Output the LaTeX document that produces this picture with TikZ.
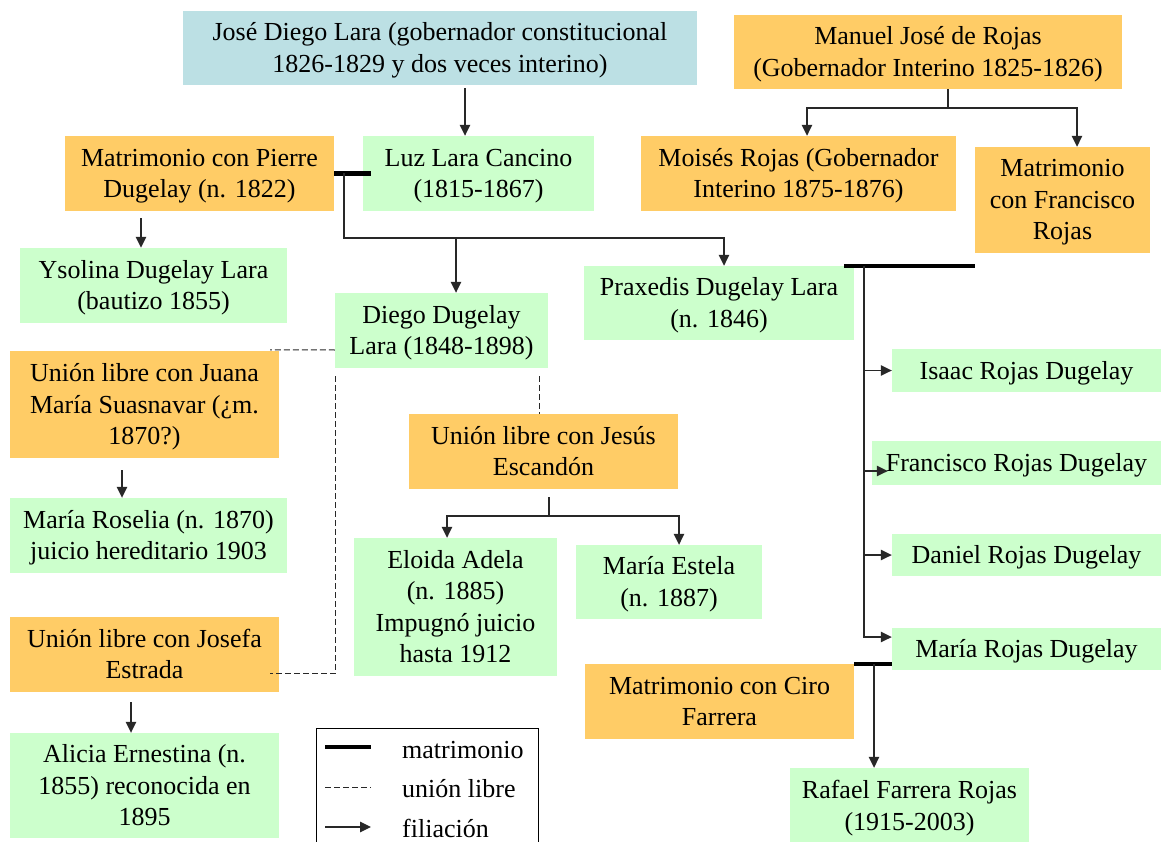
\documentclass[tikz,border=0pt]{standalone}
\usepackage{fontspec}
\setmainfont{Liberation Serif}
\newfontfamily\boxserif{Liberation Serif}
\usetikzlibrary{arrows.meta,calc}
\definecolor{boxgreen}{RGB}{204,255,204}
\definecolor{boxorange}{RGB}{255,204,102}
\definecolor{boxblue}{RGB}{188,224,228}
\definecolor{linegray}{RGB}{40,40,40}
\newcommand\toppad{\rule{0pt}{26pt}}
\newcommand\botpad{\rule[-9pt]{0pt}{9pt}}
\begin{document}
\begin{tikzpicture}[x=1pt,y=-1pt,
  box/.style={draw=none, inner sep=0pt, align=center, font=\boxserif\fontsize{26pt}{31.5pt}\selectfont, anchor=center},
  sz/.style 2 args={minimum width=#1, minimum height=#2},
  pbox/.style={box, fill=boxgreen},
  obox/.style={box, fill=boxorange},
  bbox/.style={box, fill=boxblue},
  filarrow/.style={-{Triangle[length=11pt,width=10.5pt]}, line width=1.4pt, draw=linegray},
  plain/.style={line width=1.4pt, draw=linegray},
  marriage/.style={line width=4.3pt, draw=black},
  freeunion/.style={line width=1pt, draw=linegray, dash pattern=on 6pt off 3pt},
  legtext/.style={anchor=west, inner sep=0pt, font=\boxserif\fontsize{26pt}{31.5pt}\selectfont},
]
\useasboundingbox (0,0) rectangle (1161,842);
\fill[white] (0,0) rectangle (1161,842);

% boxes
\node[bbox, sz={514pt}{74pt}] (jdl) at (440,48) {\toppad José Diego Lara (gobernador constitucional\\1826-1829 y dos veces interino)\botpad};
\node[obox, sz={388pt}{74pt}] (manuel) at (928,52) {\toppad Manuel José de Rojas\\(Gobernador Interino 1825-1826)\botpad};
\node[obox, sz={269pt}{75pt}] (pierre) at (199.5,173.5) {\toppad Matrimonio con Pierre\\Dugelay (n. 1822)\botpad};
\node[pbox, sz={231pt}{75pt}] (luz) at (478.5,173.5) {\toppad Luz Lara Cancino\\(1815-1867)\botpad};
\node[obox, sz={315pt}{75pt}] (moises) at (798.5,173.5) {\toppad Moisés Rojas (Gobernador\\Interino 1875-1876)\botpad};
\node[obox, sz={175pt}{106pt}] (mfran) at (1062.5,200) {\toppad Matrimonio\\con Francisco\\Rojas\botpad};
\node[pbox, sz={267pt}{75pt}] (ysolina) at (153.5,285.5) {\toppad Ysolina Dugelay Lara\\(bautizo 1855)\botpad};
\node[pbox, sz={213pt}{75pt}] (diego) at (441.5,330.5) {\toppad Diego Dugelay\\Lara (1848-1898)\botpad};
\node[pbox, sz={270pt}{74pt}] (praxedis) at (719,303) {\toppad Praxedis Dugelay Lara\\(n. 1846)\botpad};
\node[obox, sz={269pt}{107pt}] (juana) at (144.5,404.5) {\toppad Unión libre con Juana\\María Suasnavar (¿m.\\1870?)\botpad};
\node[pbox, sz={269pt}{43pt}] (isaac) at (1026.5,370.5) {\toppad Isaac Rojas Dugelay\botpad};
\node[obox, sz={269pt}{75pt}] (jesus) at (543.5,451.5) {\toppad Unión libre con Jesús\\Escandón\botpad};
\node[pbox, sz={289pt}{44pt}] (franrd) at (1016.5,463) {\toppad Francisco Rojas Dugelay\botpad};
\node[pbox, sz={277pt}{75pt}] (roselia) at (148.5,535.5) {\toppad María Roselia (n. 1870)\\juicio hereditario 1903\botpad};
\node[pbox, sz={203pt}{138pt}] (eloida) at (455.5,607) {\toppad Eloida Adela\\(n. 1885)\\Impugnó juicio\\hasta 1912\botpad};
\node[pbox, sz={186pt}{74pt}] (estela) at (669,582) {\toppad María Estela\\(n. 1887)\botpad};
\node[pbox, sz={269pt}{42pt}] (daniel) at (1026.5,555) {\toppad Daniel Rojas Dugelay\botpad};
\node[pbox, sz={269pt}{42pt}] (mariard) at (1026.5,649) {\toppad María Rojas Dugelay\botpad};
\node[obox, sz={269pt}{75pt}] (josefa) at (144.5,654.5) {\toppad Unión libre con Josefa\\Estrada\botpad};
\node[obox, sz={269pt}{75pt}] (ciro) at (719.5,701.5) {\toppad Matrimonio con Ciro\\Farrera\botpad};
\node[pbox, sz={269pt}{105pt}] (alicia) at (144.5,785.5) {\toppad Alicia Ernestina (n.\\1855) reconocida en\\1895\botpad};
\node[pbox, sz={239pt}{76pt}] (rafael) at (909.5,806) {\toppad Rafael Farrera Rojas\\(1915-2003)\botpad};

% José Diego Lara -> Luz
\coordinate (c1) at (465,0);
\draw[filarrow, shorten <=3pt] (jdl.south -| c1) -- (luz.north -| c1);

% Manuel -> Moisés, Francisco
\coordinate (mj) at (948,108);
\draw[plain] (manuel.south -| mj) -- (mj);
\draw[filarrow] (mj) -| ($(moises.north)+(8.5,0)$);
\draw[filarrow] (mj) -| ($(mfran.north)+(14.5,0)$);

% Pierre - Luz
\draw[marriage] (pierre.east) -- ($(luz.west)+(8,0)$);
\coordinate (pl) at (344,173.5);
\coordinate (pl2) at (344,238);
\coordinate (dj) at (456,238);
\draw[filarrow] (pl) -- (pl2) -| ($(praxedis.north)+(5,0)$);
\draw[filarrow] (dj) -- (diego.north -| dj);
\coordinate (ys) at (141,0);
\draw[filarrow, shorten <=7pt] (pierre.south -| ys) -- (ysolina.north -| ys);

% Praxedis - Francisco Rojas
\draw[marriage] ($(praxedis.north east)+(-10,0)$) -- (mfran.south west |- praxedis.north);
\coordinate (fr1) at (864,266);
\draw[filarrow] (fr1 |- isaac.west) -- (isaac.west);
\draw[filarrow] (fr1 |- 0,471) -- ($(franrd.west)+(16,8)$);
\draw[filarrow] (fr1 |- daniel.west) -- (daniel.west);
\draw[filarrow] (fr1) |- ($(mariard.west)+(0,-12)$);

% María - Ciro
\draw[marriage] (ciro.north east) -- (ciro.north east -| mariard.west);
\coordinate (cr) at (874,664);
\draw[filarrow] (cr) -- (rafael.north -| cr);

% Diego free unions
\draw[freeunion] ($(diego.west)+(0,19.5)$) -- ($(juana.north east)+(-9,-1)$);
\draw[freeunion] ($(diego.south west)+(1,8)$) |- ($(josefa.east)+(-9,18.5)$);
\draw[freeunion] ($(diego.south)+(97.5,8)$) -- ($(jesus.north)+(-4.5,0)$);

% Jesús children
\coordinate (jc) at (549,516);
\draw[plain, shorten <=8pt] (jesus.south -| jc) -- (jc);
\draw[filarrow] (jc) -| ($(eloida.north)+(-8.5,0)$);
\draw[filarrow] (jc) -| ($(estela.north)+(10,0)$);

% Juana -> Roselia, Josefa -> Alicia
\coordinate (jr) at (122,0);
\draw[filarrow, shorten <=12pt] (juana.south -| jr) -- (roselia.north -| jr);
\coordinate (ja) at (131,0);
\draw[filarrow, shorten <=10pt] (josefa.south -| ja) -- (alicia.north -| ja);

% legend
\node[draw=black, line width=1pt, minimum width=222pt, minimum height=125pt, inner sep=0pt, anchor=north west] (legend) at (316,728) {};
\coordinate (lm) at (325,747);
\coordinate (lu) at (325,787);
\coordinate (lf) at (325,827);
\draw[marriage] (lm) -- ++(46,0);
\draw[freeunion] (lu) -- ++(46,0);
\draw[filarrow] (lf) -- ++(46,0);
\node[legtext] (tm) at (402,750) {matrimonio};
\node[legtext] (tu) at (402,789) {unión libre};
\node[legtext] (tf) at (402,828) {filiación};
\end{tikzpicture}
\end{document}
